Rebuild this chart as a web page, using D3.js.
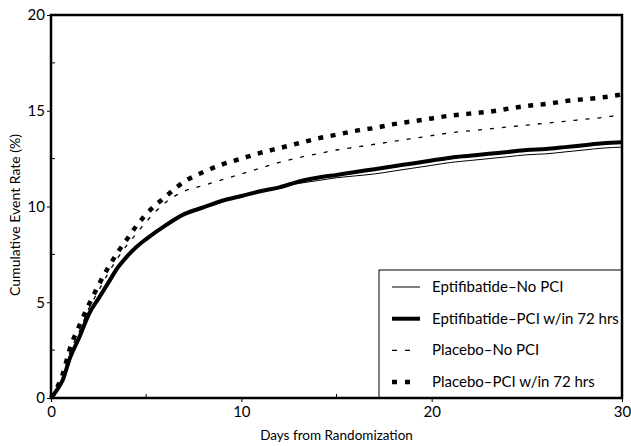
<!DOCTYPE html>
<html>
<head>
<meta charset="utf-8">
<script src="https://cdn.jsdelivr.net/npm/d3@7"></script>
<style>
  body { margin: 0; background: #fff; }
  svg text { font-family: "Lato", "DejaVu Sans", sans-serif; fill: #000; }
</style>
</head>
<body>
<script>
// days from randomization and cumulative event rate (%) per group
const eptNoPciDays = [0, 0.3, 0.6, 1, 1.5, 2, 2.5, 3, 3.5, 4, 4.5, 5, 6, 7, 8, 9, 10, 11, 12, 13, 14, 15, 16, 17, 18, 19, 20, 21, 22, 23, 24, 25, 26, 27, 28, 29, 30];
const eptNoPci =     [0, 0.4, 0.9, 2.1, 3.2, 4.4, 5.2, 6.0, 6.8, 7.4, 7.9, 8.3, 9.0, 9.6, 9.95, 10.3, 10.55, 10.8, 11.0, 11.2, 11.35, 11.5, 11.6, 11.7, 11.85, 12.0, 12.15, 12.3, 12.4, 12.5, 12.6, 12.7, 12.75, 12.85, 12.95, 13.05, 13.1];

const eptPciDays = eptNoPciDays;
const eptPci =     [0, 0.4, 0.9, 2.1, 3.2, 4.4, 5.2, 6.0, 6.8, 7.4, 7.9, 8.3, 9.0, 9.6, 9.95, 10.3, 10.55, 10.8, 11.0, 11.3, 11.5, 11.65, 11.8, 11.95, 12.1, 12.25, 12.4, 12.55, 12.65, 12.75, 12.85, 12.95, 13.0, 13.1, 13.2, 13.3, 13.35];

const plaNoPciDays = [0, 0.3, 0.6, 1, 1.5, 2, 2.5, 3, 3.5, 4, 4.5, 5, 6, 7, 8, 9, 10, 11, 12, 13, 14, 15, 16, 17, 18, 19, 20, 21, 22, 23, 24, 25, 26, 27, 28, 29, 30];
const plaNoPci =     [0, 0.4, 1.1, 2.4, 3.5, 4.7, 5.6, 6.5, 7.3, 8.0, 8.6, 9.2, 10.2, 10.8, 11.1, 11.4, 11.7, 12.0, 12.3, 12.55, 12.75, 12.95, 13.1, 13.25, 13.4, 13.55, 13.7, 13.85, 13.95, 14.05, 14.15, 14.25, 14.35, 14.45, 14.55, 14.65, 14.8];

const plaPciDays = plaNoPciDays;
const plaPci =     [0, 0.5, 1.2, 2.6, 3.8, 4.9, 5.9, 6.8, 7.6, 8.3, 9.0, 9.6, 10.5, 11.3, 11.8, 12.2, 12.5, 12.8, 13.05, 13.3, 13.55, 13.75, 13.95, 14.1, 14.3, 14.45, 14.6, 14.75, 14.85, 14.95, 15.1, 15.25, 15.35, 15.5, 15.6, 15.7, 15.85];

const legendLabels = ["Eptifibatide\u2013No PCI", "Eptifibatide\u2013PCI w/in 72 hrs", "Placebo\u2013No PCI", "Placebo\u2013PCI w/in 72 hrs"];
const xTicks = [0, 10, 20, 30];
const xMinor = [5, 15, 25];
const yTicks = [0, 5, 10, 15, 20];
const yMinor = [2.5, 7.5, 12.5, 17.5];

const w = 631, h = 446;
const m = {left: 51, right: 9, top: 15, bottom: 48};

const svg = d3.select("body").append("svg")
  .attr("width", w)
  .attr("height", h);

const x = d3.scaleLinear().domain([0, 30]).range([m.left, w - m.right]);
const y = d3.scaleLinear().domain([0, 20]).range([h - m.bottom, m.top]);

const series = [
  {days: eptNoPciDays, vals: eptNoPci, width: 1, dash: null},
  {days: eptPciDays, vals: eptPci, width: 4, dash: null},
  {days: plaNoPciDays, vals: plaNoPci, width: 1.3, dash: "4,8"},
  {days: plaPciDays, vals: plaPci, width: 4.5, dash: "5,7.5"}
];

const line = d3.line()
  .x(d => x(d[0]))
  .y(d => y(d[1]))
  .curve(d3.curveMonotoneX);

series.forEach(s => {
  svg.append("path")
    .datum(s.days.map((d, i) => [d, s.vals[i]]))
    .attr("fill", "none")
    .attr("stroke", "#000")
    .attr("stroke-width", s.width)
    .attr("stroke-dasharray", s.dash)
    .attr("d", line);
});

// axes
const xAxis = svg.append("g")
  .attr("transform", "translate(0," + (h - m.bottom) + ")")
  .call(d3.axisBottom(x).tickValues(xTicks).tickSize(4).tickPadding(4));
const yAxis = svg.append("g")
  .attr("transform", "translate(" + m.left + ",0)")
  .call(d3.axisLeft(y).tickValues(yTicks).tickSize(4).tickPadding(2));

[xAxis, yAxis].forEach(a => {
  a.select(".domain").remove();
  a.selectAll("text").style("font-size", "15px").style("font-family", "Lato, sans-serif");
  a.selectAll("line").attr("stroke-width", 1);
});

svg.append("g").selectAll("line")
  .data(xMinor).join("line")
  .attr("x1", d => x(d)).attr("x2", d => x(d))
  .attr("y1", y(0)).attr("y2", y(0) - 4)
  .attr("stroke", "#000");
svg.append("g").selectAll("line")
  .data(yMinor).join("line")
  .attr("y1", d => y(d)).attr("y2", d => y(d))
  .attr("x1", x(0)).attr("x2", x(0) + 4)
  .attr("stroke", "#000");

// legend box
const lg = svg.append("g");
lg.append("rect")
  .attr("x", 379).attr("y", 270)
  .attr("width", x(30) - 379).attr("height", y(0) - 270)
  .attr("fill", "#fff").attr("stroke", "#000").attr("stroke-width", 1);

legendLabels.forEach((t, i) => {
  const ly = 287 + i * 31.7;
  const s = series[i];
  lg.append("line")
    .attr("x1", 392).attr("x2", s.dash ? 411 : 420)
    .attr("y1", ly).attr("y2", ly)
    .attr("stroke", "#000")
    .attr("stroke-width", s.width)
    .attr("stroke-dasharray", s.dash ? "5,8" : null);
  lg.append("text")
    .attr("x", 432).attr("y", ly + 5)
    .style("font-size", "15px")
    .text(t);
});

// plot frame
svg.append("rect")
  .attr("x", x(0)).attr("y", y(20))
  .attr("width", x(30) - x(0)).attr("height", y(0) - y(20))
  .attr("fill", "none").attr("stroke", "#000").attr("stroke-width", 2.5);

svg.append("text")
  .attr("x", (x(0) + x(30)) / 2).attr("y", 440)
  .attr("text-anchor", "middle")
  .style("font-size", "13.5px")
  .text("Days from Randomization");

svg.append("text")
  .attr("transform", "translate(20," + 215 + ") rotate(-90)")
  .attr("text-anchor", "middle")
  .style("font-size", "14px")
  .text("Cumulative Event Rate (%)");
</script>
</body>
</html>
